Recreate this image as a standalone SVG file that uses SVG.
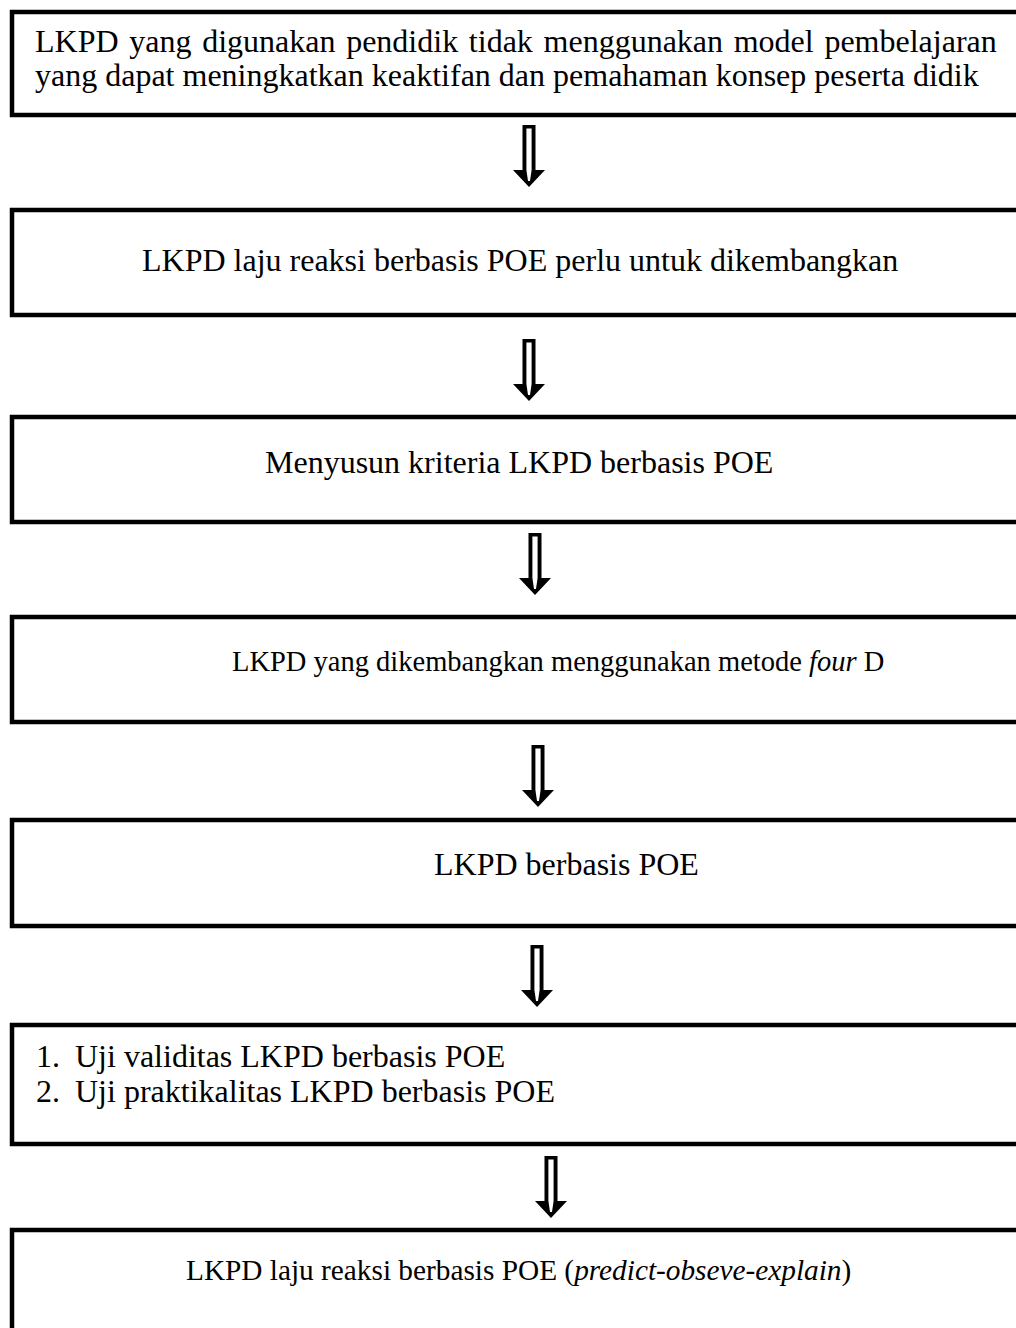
<svg xmlns="http://www.w3.org/2000/svg" width="1016" height="1328" viewBox="0 0 1016 1328">
  <style>
    .box { fill: #ffffff; stroke: #000000; stroke-width: 4.5; }
    .t { font-family: "Liberation Serif", "Times New Roman", serif; font-size: 32px; fill: #000000; }
    .it { font-style: italic; }
  </style>
  <defs>
    <!-- hollow block arrow pointing down; origin at top centre -->
    <g id="down-arrow">
      <path d="M-6.5,0 H6.5 V45 H16 L0,62 L-16,45 H-6.5 Z" fill="#000000"/>
      <path d="M-2.6,3.4 H2.6 V45 L1,56 H-1 L-2.6,45 Z" fill="#ffffff"/>
    </g>
  </defs>
  <rect width="1016" height="1328" fill="#ffffff"/>

  <g id="node-1">
    <rect class="box" x="12" y="12" width="1030" height="103"/>
    <text class="t" x="35" y="52" word-spacing="2.7">LKPD yang digunakan pendidik tidak menggunakan model pembelajaran</text>
    <text class="t" x="35" y="86">yang dapat meningkatkan keaktifan dan pemahaman konsep peserta didik</text>
  </g>

  <g id="node-2">
    <rect class="box" x="12" y="210" width="1030" height="105"/>
    <text class="t" x="142" y="271">LKPD laju reaksi berbasis POE perlu untuk dikembangkan</text>
  </g>

  <g id="node-3">
    <rect class="box" x="12" y="417" width="1030" height="105"/>
    <text class="t" x="265" y="473">Menyusun kriteria LKPD berbasis POE</text>
  </g>

  <g id="node-4">
    <rect class="box" x="12" y="617" width="1030" height="105"/>
    <text class="t" x="232" y="671" style="font-size:28.5px">LKPD yang dikembangkan menggunakan metode <tspan class="it">four</tspan> D</text>
  </g>

  <g id="node-5">
    <rect class="box" x="12" y="820" width="1030" height="106"/>
    <text class="t" x="434" y="875">LKPD berbasis POE</text>
  </g>

  <g id="node-6">
    <rect class="box" x="12" y="1025" width="1030" height="119"/>
    <text class="t" x="36" y="1067">1.</text>
    <text class="t" x="75" y="1067">Uji validitas LKPD berbasis POE</text>
    <text class="t" x="36" y="1102">2.</text>
    <text class="t" x="75" y="1102">Uji praktikalitas LKPD berbasis POE</text>
  </g>

  <g id="node-7">
    <rect class="box" x="12" y="1230" width="1030" height="120"/>
    <text class="t" x="186" y="1280" style="font-size:29.3px">LKPD laju reaksi berbasis POE (<tspan class="it">predict-obseve-explain</tspan>)</text>
  </g>

  <g id="connectors">
    <use href="#down-arrow" transform="translate(529,125)"/>
    <use href="#down-arrow" transform="translate(529,339)"/>
    <use href="#down-arrow" transform="translate(535,533)"/>
    <use href="#down-arrow" transform="translate(538,745)"/>
    <use href="#down-arrow" transform="translate(537,945)"/>
    <use href="#down-arrow" transform="translate(551,1156)"/>
  </g>
</svg>
